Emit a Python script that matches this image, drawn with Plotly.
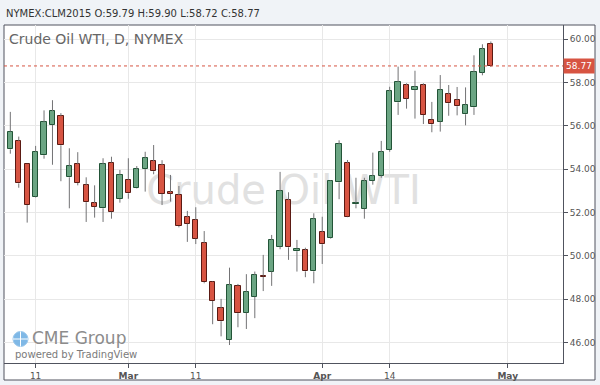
import plotly.graph_objects as go

# ---------------- data ----------------
symbol_line = "NYMEX:CLM2015 O:59.79 H:59.90 L:58.72 C:58.77"
chart_title = "Crude Oil WTI, D, NYMEX"
watermark = "Crude Oil WTI"

opens = [54.92, 55.31, 54.23, 52.74, 54.65, 56.05, 56.45, 53.63, 54.23, 53.26,
         52.43, 52.20, 54.31, 52.63, 53.52, 53.12, 54.01, 54.37, 54.19, 52.95,
         52.81, 51.79, 51.66, 50.60, 48.79, 47.59, 46.12, 48.63, 47.38, 48.12,
         49.09, 49.28, 50.43, 52.58, 50.22, 50.26, 49.29, 51.11, 50.84, 53.40,
         54.29, 52.39, 52.18, 53.47, 53.71, 54.89, 57.09, 57.88, 57.67, 57.88,
         56.29, 56.20, 57.46, 57.21, 56.54, 56.86, 58.46, 59.79]
highs = [56.65, 55.51, 54.25, 55.08, 56.72, 57.19, 56.59, 54.97, 54.79, 53.63,
         53.26, 54.51, 54.58, 53.97, 54.51, 54.15, 54.81, 55.12, 54.42, 53.74,
         53.23, 52.08, 52.25, 51.15, 48.82, 48.02, 49.46, 48.71, 49.16, 49.28,
         50.05, 50.97, 53.88, 52.94, 50.74, 50.38, 51.97, 51.81, 53.50, 55.34,
         54.43, 53.61, 53.61, 54.77, 55.31, 57.81, 58.74, 57.97, 58.55, 57.97,
         57.11, 58.35, 57.89, 57.80, 57.78, 59.26, 59.77, 59.90]
lows = [54.72, 53.15, 51.54, 52.70, 54.49, 54.21, 53.45, 52.20, 53.26, 51.57,
        51.77, 51.57, 51.72, 52.46, 52.64, 53.10, 52.97, 53.77, 52.35, 52.51,
        51.32, 50.65, 50.55, 48.74, 46.85, 46.29, 45.89, 46.71, 46.63, 47.13,
        48.38, 48.62, 50.31, 49.82, 49.28, 49.02, 48.74, 49.63, 50.80, 52.62,
        51.79, 52.20, 51.72, 53.29, 53.61, 54.81, 56.51, 56.80, 56.34, 56.09,
        55.71, 55.74, 56.47, 56.49, 56.03, 56.51, 58.34, 58.72]
closes = [55.74, 53.35, 52.35, 54.81, 56.17, 56.68, 55.11, 54.14, 53.37, 52.48,
          52.27, 54.23, 52.04, 53.75, 52.89, 54.00, 54.51, 53.91, 52.87, 52.87,
          51.38, 51.49, 50.80, 48.79, 47.92, 46.99, 48.65, 47.36, 48.35, 49.11,
          49.04, 50.74, 52.99, 50.40, 50.34, 49.29, 51.69, 50.54, 53.47, 55.15,
          51.81, 52.45, 53.45, 53.68, 54.80, 57.60, 58.03, 57.26, 57.80, 56.51,
          56.08, 57.65, 57.05, 56.91, 56.98, 58.49, 59.54, 58.77]

date_tick_bars = [3, 14, 22, 37, 45, 59]          # bar index of each date label
date_tick_labels = ["11", "<b>Mar</b>", "11", "<b>Apr</b>", "14", "<b>May</b>"]
price_ticks = [46, 48, 50, 52, 54, 56, 58, 60]
last_price = closes[-1]

# ---------------- styling ----------------
FONT = "DejaVu Sans"
UP_FILL, UP_LINE = "#6ba583", "#225437"
DN_FILL, DN_LINE = "#d75442", "#5b1a13"
WICK = "#737375"
PAGE_BG = "#f0f3f7"
FRAME = "#50535e"

W, H = 600, 385
ML, MR, MT, MB = 4, 37, 25, 22
PW, PH = W - ML - MR, H - MT - MB


def px(x):  # pixel -> paper x
    return (x - ML) / PW


def py(y):  # pixel -> paper y
    return (H - MB - y) / PH


XR = [-0.75, 65.56]
YR = [45.06, 60.66]

n = len(opens)
idx = list(range(n))
up = [c >= o for o, c in zip(opens, closes)]
body_lo = [min(o, c) for o, c in zip(opens, closes)]
body_hi = [max(o, c) for o, c in zip(opens, closes)]
body_h = [max(h - l, 0.04) for h, l in zip(body_hi, body_lo)]

wick_x, wick_y = [], []
for i in idx:
    wick_x += [i, i, None, i, i, None]
    wick_y += [highs[i], body_hi[i], None, body_lo[i], lows[i], None]

fig = go.Figure()

# watermark on the base (hidden) axes so it sits under the candles
fig.add_trace(go.Scatter(
    x=[0.5], y=[0.5], mode="text", text=[watermark],
    textfont=dict(family=FONT, size=40, color="#e1e1e1"),
    textposition="middle center", hoverinfo="skip", showlegend=False,
    xaxis="x", yaxis="y"))

fig.add_trace(go.Scatter(
    x=wick_x, y=wick_y, mode="lines", line=dict(color=WICK, width=1),
    hoverinfo="skip", showlegend=False, xaxis="x2", yaxis="y2"))

fig.add_trace(go.Bar(
    x=idx, y=body_h, base=body_lo, width=0.62,
    marker=dict(color=[UP_FILL if u else DN_FILL for u in up],
                line=dict(color=[UP_LINE if u else DN_LINE for u in up], width=1)),
    hoverinfo="skip", showlegend=False, xaxis="x2", yaxis="y2"))

shapes = [
    # white chart frame
    dict(type="rect", xref="paper", yref="paper", x0=px(4), x1=px(595),
         y0=py(380), y1=py(25), fillcolor="white",
         line=dict(color=FRAME, width=1), layer="below"),
    # last-price dotted line
    dict(type="line", xref="paper", yref="y2", x0=0, x1=1,
         y0=last_price, y1=last_price,
         line=dict(color="#d75442", width=1, dash="dot"), layer="above"),
    # globe of the logo
    dict(type="circle", xref="paper", yref="paper", x0=px(13), x1=px(28),
         y0=py(346.5), y1=py(331.5), fillcolor="#7fb8e6",
         line=dict(color="#9cc8ec", width=1), layer="above"),
    dict(type="line", xref="paper", yref="paper", x0=px(13), x1=px(28),
         y0=py(339), y1=py(339), line=dict(color="white", width=1)),
    dict(type="line", xref="paper", yref="paper", x0=px(20.5), x1=px(20.5),
         y0=py(346.5), y1=py(331.5), line=dict(color="white", width=1)),
]

annotations = [
    dict(text=symbol_line, xref="paper", yref="paper", x=px(4), y=py(13),
         xanchor="left", yanchor="middle", showarrow=False,
         font=dict(family=FONT, size=10, color="#333333")),
    dict(text=chart_title, xref="paper", yref="paper", x=px(7), y=py(39),
         xanchor="left", yanchor="middle", showarrow=False,
         font=dict(family=FONT, size=14, color="#666666")),
    dict(text="CME Group", xref="paper", yref="paper", x=px(30), y=py(338),
         xanchor="left", yanchor="middle", showarrow=False,
         font=dict(family=FONT, size=17, color="#8c8c8c")),
    dict(text="powered by TradingView", xref="paper", yref="paper", x=px(13),
         y=py(354.5), xanchor="left", yanchor="middle", showarrow=False,
         font=dict(family=FONT, size=10, color="#7a7a7a")),
    dict(text=f"{last_price:.2f}", xref="paper", yref="y2", x=1, y=last_price,
         xanchor="left", yanchor="middle", showarrow=False,
         bgcolor="#d75442", width=26, height=10, borderpad=2,
         font=dict(family=FONT, size=9, color="white")),
]

fig.update_layout(
    width=W, height=H,
    margin=dict(l=ML, r=MR, t=MT, b=MB, pad=0),
    paper_bgcolor=PAGE_BG, plot_bgcolor="rgba(0,0,0,0)",
    showlegend=False, bargap=0,
    xaxis=dict(range=[0, 1], visible=False, fixedrange=True),
    yaxis=dict(range=[0, 1], visible=False, fixedrange=True),
    xaxis2=dict(overlaying="x", anchor="y2", range=XR,
                tickmode="array", tickvals=date_tick_bars, ticktext=date_tick_labels,
                ticks="outside", ticklen=4, tickcolor=FRAME,
                showgrid=True, gridcolor="#e8e8e8", gridwidth=1,
                showline=True, linecolor=FRAME, linewidth=1, zeroline=False,
                tickfont=dict(family=FONT, size=9, color="#555555")),
    yaxis2=dict(overlaying="y", anchor="x2", side="right", range=YR,
                tickmode="array", tickvals=price_ticks, tickformat=".2f",
                ticks="outside", ticklen=4, tickcolor=FRAME,
                showgrid=True, gridcolor="#e8e8e8", gridwidth=1,
                showline=True, linecolor=FRAME, linewidth=1, zeroline=False,
                tickfont=dict(family=FONT, size=9, color="#555555")),
    shapes=shapes, annotations=annotations,
)

fig.write_html(
    "out.html",
    config={"displayModeBar": False},
    post_script="document.body.style.margin='0';document.body.style.overflow='hidden';"
                "document.body.style.background='" + PAGE_BG + "';",
)
